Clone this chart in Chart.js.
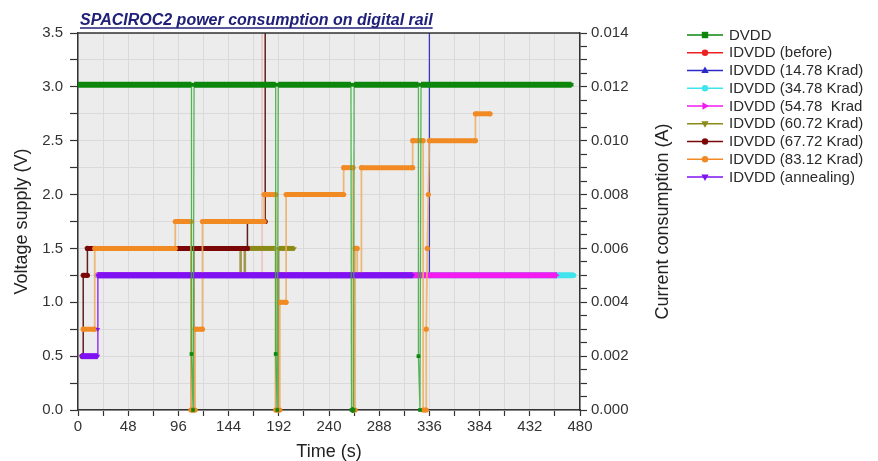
<!DOCTYPE html>
<html><head><meta charset="utf-8">
<script src="https://cdn.jsdelivr.net/npm/chart.js@4/dist/chart.umd.min.js"></script>
<style>html,body{margin:0;padding:0;background:#fff;}#wrap{width:878px;height:461px;}</style>
</head><body><div id="wrap"><canvas id="c" width="878" height="461"></canvas></div>
<script>
// ---- text ----
const chartTitle = 'SPACIROC2 power consumption on digital rail';
const xTitle = 'Time (s)';
const yTitle = 'Voltage supply (V)';
const y2Title = 'Current consumption (A)';
const seriesNames = ['DVDD','IDVDD (before)','IDVDD (14.78 Krad)','IDVDD (34.78 Krad)','IDVDD (54.78  Krad','IDVDD (60.72 Krad)','IDVDD (67.72 Krad)','IDVDD (83.12 Krad)','IDVDD (annealing)'];

// ---- data: time (s) and values (V for DVDD, A for IDVDD) ----
const tDVDD = [0,108.5,108.5,110,111,189,189,190.5,191.5,261,261.5,263.5,264,325.5,325.5,327,328,472];
const vDVDD = [3.02,3.02,0.52,0,3.02,3.02,0.52,0,3.02,3.02,0,0,3.02,3.02,0.5,0,3.02,3.02];
const tBefore = [18,176,176];
const iBefore = [0.005,0.005,0.016];
const t1478 = [18,336,336];
const i1478 = [0.005,0.005,0.016];
const t3478 = [18,474];
const i3478 = [0.005,0.005];
const t5478 = [18,458];
const i5478 = [0.005,0.005];
const t6072 = [8,108,108,111,111,155,155,156,156,159,159,160,160,189,189,192,192,207];
const i6072 = [0.006,0.006,0,0,0.006,0.006,0.005,0.005,0.006,0.006,0.005,0.005,0.006,0.006,0,0,0.006,0.006];
const t6772 = [4,5,5,9,9,162,162,179,179];
const i6772 = [0.002,0.002,0.005,0.005,0.006,0.006,0.007,0.007,0.016];
const t8312 = [5,16,16,93,93,108,108,112,112,119,119,178,178,189,189,193,193,199,199,254,254,263,263,265,265,267,267,271,271,320,320,330,330,333,333,334,335,336,380,380,394];
const i8312 = [0.003,0.003,0.006,0.006,0.007,0.007,0,0,0.003,0.003,0.007,0.007,0.008,0.008,0,0,0.004,0.004,0.008,0.008,0.009,0.009,0,0,0.006,0.006,0.005,0.005,0.009,0.009,0.010,0.010,0,0,0.003,0.006,0.008,0.010,0.010,0.011,0.011];
const tAnneal = [3,19,19,19,320];
const iAnneal = [0.002,0.002,0.003,0.005,0.005];

// ---- ticks ----
const xTickStep = 24, xLabelStep = 48;
const yTickStep = 0.25, yLabelStep = 0.5;
const y2TickStep = 0.0005, y2LabelStep = 0.002;

const FONT = '"Liberation Sans", Arial, sans-serif';
Chart.defaults.font.family = FONT;
Chart.defaults.color = '#333';

function pts(t, v){ return t.map((x,i)=>({x:x, y:v[i]})); }
function flat(c){ return Math.abs(c.p0.parsed.y - c.p1.parsed.y) < 1e-12; }
function mk(idx, t, v, axis, color, vColor, style, rot, order, thick, vThick){
  return {
    label: seriesNames[idx], data: pts(t,v), yAxisID: axis, order: order,
    borderColor: color, backgroundColor: color, pointStyle: style, pointRotation: rot,
    pointRadius: 2.6, pointBorderWidth: 0, pointBackgroundColor: color,
    borderWidth: thick, tension: 0, fill: false, borderCapStyle: 'butt',
    clip: {left: 0, right: 0, top: 0, bottom: 4},
    segment: {
      borderWidth: c => flat(c) ? thick : vThick,
      borderColor: c => flat(c) ? color : vColor
    }
  };
}
const datasets = [
  mk(0, tDVDD, vDVDD, 'y', '#0c870c', 'rgba(60,170,60,0.85)', 'rect', 0, 0, 6, 1.3),
  mk(1, tBefore, iBefore, 'y2', '#ee2222', 'rgba(235,120,120,0.45)', 'circle', 0, 8, 5, 1.2),
  mk(2, t1478, i1478, 'y2', '#2a2ac8', 'rgba(50,50,190,0.95)', 'triangle', 0, 7, 5, 1.3),
  mk(3, t3478, i3478, 'y2', '#3fe4ec', 'rgba(60,220,230,0.9)', 'circle', 0, 6, 6, 1.3),
  mk(4, t5478, i5478, 'y2', '#f21cf0', 'rgba(240,40,240,0.9)', 'triangle', 90, 5, 6, 1.3),
  mk(5, t6072, i6072, 'y2', '#8c8a16', 'rgba(150,140,60,0.85)', 'triangle', 180, 4, 5, 1.6),
  mk(6, t6772, i6772, 'y2', '#7a0606', 'rgba(90,20,20,0.95)', 'circle', 0, 3, 5, 1.5),
  mk(7, t8312, i8312, 'y2', '#f28a24', 'rgba(236,175,100,0.85)', 'circle', 0, 2, 5, 1.8),
  mk(8, tAnneal, iAnneal, 'y2', '#7f12f2', 'rgba(127,18,242,0.95)', 'triangle', 180, 1, 6, 1.3)
];

function near(v, s){ return Math.abs(v/s - Math.round(v/s)) < 1e-6; }

function marker(ctx, style, rot, x, y, r){
  ctx.save(); ctx.translate(x, y); ctx.rotate(rot*Math.PI/180); ctx.beginPath();
  if (style === 'rect') ctx.rect(-r, -r, 2*r, 2*r);
  else if (style === 'triangle') { ctx.moveTo(0, -r*1.25); ctx.lineTo(r*1.15, r*0.8); ctx.lineTo(-r*1.15, r*0.8); ctx.closePath(); }
  else ctx.arc(0, 0, r, 0, Math.PI*2);
  ctx.fill(); ctx.restore();
}

const deco = {
  id: 'deco',
  beforeDraw(chart){
    const {ctx, chartArea: a} = chart;
    ctx.save();
    ctx.fillStyle = '#ffffff'; ctx.fillRect(0, 0, chart.width, chart.height);
    ctx.fillStyle = '#ececec'; ctx.fillRect(a.left, a.top, a.right - a.left, a.bottom - a.top);
    ctx.restore();
  },
  afterDraw(chart){
    const {ctx, chartArea: a} = chart;
    ctx.save();
    ctx.strokeStyle = '#333'; ctx.lineWidth = 1.5;
    ctx.beginPath(); ctx.moveTo(a.left, a.top); ctx.lineTo(a.right, a.top); ctx.stroke();
    // chart title
    ctx.font = 'italic bold 16px ' + FONT;
    ctx.fillStyle = '#20207a'; ctx.textAlign = 'left'; ctx.textBaseline = 'alphabetic';
    ctx.fillText(chartTitle, 80, 25);
    const w = ctx.measureText(chartTitle).width;
    ctx.strokeStyle = '#20207a'; ctx.lineWidth = 1.4;
    ctx.beginPath(); ctx.moveTo(80, 28); ctx.lineTo(80 + w, 28); ctx.stroke();
    // right axis title
    ctx.save();
    ctx.font = '18px ' + FONT; ctx.fillStyle = '#222';
    ctx.translate(663, (a.top + a.bottom)/2); ctx.rotate(-Math.PI/2);
    ctx.textAlign = 'center'; ctx.textBaseline = 'middle';
    ctx.fillText(y2Title, 0, 0);
    ctx.restore();
    // legend
    const lx0 = 687, lx1 = 723, mx = 705, tx = 729, ly0 = 35, ldy = 17.75;
    chart.data.datasets.forEach((ds, i) => {
      const y = ly0 + i*ldy;
      ctx.strokeStyle = ds.borderColor; ctx.lineWidth = 1.5;
      ctx.beginPath(); ctx.moveTo(lx0, y); ctx.lineTo(lx1, y); ctx.stroke();
      ctx.fillStyle = ds.borderColor;
      marker(ctx, ds.pointStyle, ds.pointRotation, mx, y, 3.2);
      ctx.fillStyle = '#2a2a2a'; ctx.font = '15px ' + FONT;
      ctx.textAlign = 'left'; ctx.textBaseline = 'middle';
      ctx.fillText(ds.label, tx, y + 0.5);
    });
    ctx.restore();
  }
};

new Chart(document.getElementById('c'), {
  type: 'line',
  data: { datasets: datasets },
  plugins: [deco],
  options: {
    responsive: false, animation: false, devicePixelRatio: 1,
    layout: { padding: { top: 33, right: 208, bottom: 0, left: 0 } },
    plugins: { legend: { display: false }, title: { display: false }, tooltip: { enabled: false } },
    scales: {
      x: {
        type: 'linear', min: 0, max: 480,
        afterFit: s => { s.height = 51; },
        ticks: { stepSize: xTickStep, autoSkip: false, maxRotation: 0, padding: 2, font: { size: 15 }, color: '#333',
          callback: v => near(v, xLabelStep) ? String(Math.round(v)) : '' },
        grid: { color: '#dadada', lineWidth: 1, tickColor: '#333', tickLength: 6, tickWidth: 1.2 },
        border: { color: '#333', width: 1.5 },
        title: { display: true, text: xTitle, font: { size: 18, lineHeight: 1 }, color: '#222', padding: { top: 0, bottom: 0 } }
      },
      y: {
        type: 'linear', position: 'left', min: 0, max: 3.5,
        afterFit: s => { s.width = 78; },
        ticks: { stepSize: yTickStep, autoSkip: false, maxTicksLimit: 100, padding: 7, font: { size: 15 }, color: '#333',
          callback: v => near(v, yLabelStep) ? v.toFixed(1) : '' },
        grid: { color: '#dadada', lineWidth: 1, tickColor: '#333', tickLength: 8, tickWidth: 1.2 },
        border: { color: '#333', width: 1.5 },
        title: { display: true, text: yTitle, font: { size: 18, lineHeight: 1 }, color: '#222', padding: { top: 13, bottom: 0 } }
      },
      y2: {
        type: 'linear', position: 'right', min: 0, max: 0.014,
        afterFit: s => { s.width = 90; },
        ticks: { stepSize: y2TickStep, autoSkip: false, maxTicksLimit: 100, padding: 4, font: { size: 15 }, color: '#333',
          callback: v => near(v, y2LabelStep) ? v.toFixed(3) : '' },
        grid: { drawOnChartArea: false, tickColor: '#333', tickLength: 7, tickWidth: 1.2 },
        border: { color: '#333', width: 1.5 }
      }
    }
  }
});
</script>
</body></html>
